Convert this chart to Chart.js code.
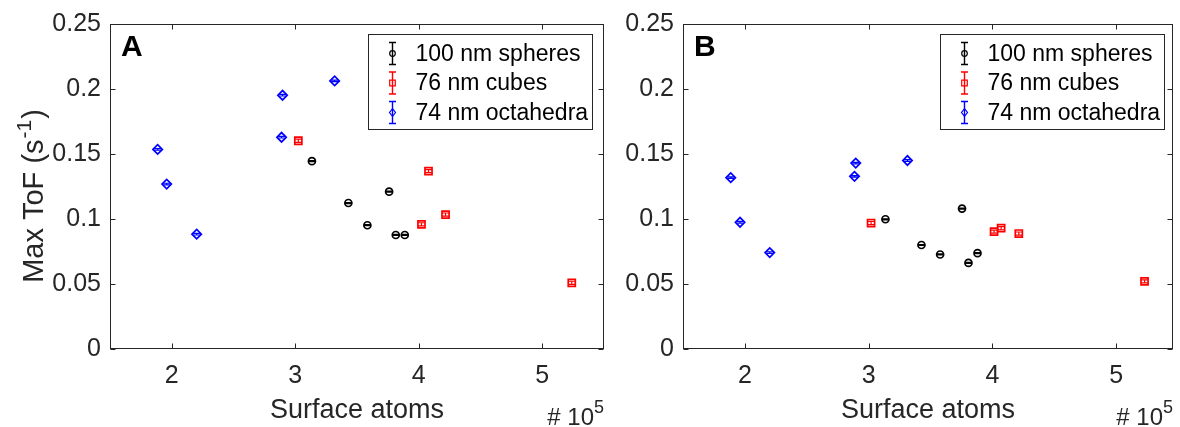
<!DOCTYPE html>
<html><head><meta charset="utf-8">
<script src="https://cdn.jsdelivr.net/npm/chart.js@4.4.1/dist/chart.umd.min.js"></script>
<style>
html,body{margin:0;padding:0;background:#fff;}
#wrap{position:relative;width:1180px;height:427px;overflow:hidden;background:#fff;}
.panel{position:absolute;top:0;height:427px;}
#pA{left:0;width:612px;}
#pB{left:612px;width:568px;}
</style></head><body>
<div id="wrap">
  <div class="panel" id="pA"><canvas id="cA" width="612" height="427"></canvas></div>
  <div class="panel" id="pB"><canvas id="cB" width="568" height="427"></canvas></div>
</div>
<script>
// ---------- data ----------
const seriesNames = ['100 nm spheres', '76 nm cubes', '74 nm octahedra'];
const seriesColors = ['#000000', '#ff0000', '#0000ff'];
const seriesMarkers = ['circle', 'rect', 'rectRot'];

const xTicks = [2, 3, 4, 5];
const xTickLabels = ['2', '3', '4', '5'];
const yTicks = [0, 0.05, 0.1, 0.15, 0.2, 0.25];
const yTickLabels = ['0', '0.05', '0.1', '0.15', '0.2', '0.25'];

// Panel A
const spheresA_x = [3.135, 3.430, 3.584, 3.760, 3.814, 3.887];
const spheresA_y = [0.1445, 0.1123, 0.0952, 0.1210, 0.0877, 0.0877];
const spheresA_err = [0.0004, 0.0004, 0.0004, 0.0004, 0.0004, 0.0004];
const cubesA_x = [3.025, 4.022, 4.079, 4.217, 5.239];
const cubesA_y = [0.1602, 0.0959, 0.1368, 0.1034, 0.0509];
const cubesA_err = [0.0012, 0.0012, 0.0012, 0.0012, 0.0012];
const octaA_x = [1.886, 1.959, 2.202, 2.889, 2.897, 3.319];
const octaA_y = [0.1535, 0.1269, 0.0883, 0.1629, 0.1952, 0.2062];
const octaA_err = [0.0006, 0.0006, 0.0006, 0.0006, 0.0006, 0.0006];

// Panel B
const spheresB_x = [3.136, 3.427, 3.578, 3.755, 3.807, 3.880];
const spheresB_y = [0.0998, 0.0800, 0.0727, 0.1080, 0.0662, 0.0737];
const spheresB_err = [0.0004, 0.0004, 0.0004, 0.0004, 0.0004, 0.0004];
const cubesB_x = [3.020, 4.014, 4.071, 4.214, 5.230];
const cubesB_y = [0.0969, 0.0903, 0.0929, 0.0888, 0.0520];
const cubesB_err = [0.0012, 0.0012, 0.0012, 0.0012, 0.0012];
const octaB_x = [1.886, 1.961, 2.201, 2.886, 2.896, 3.314];
const octaB_y = [0.1318, 0.0975, 0.0742, 0.1328, 0.1430, 0.1450];
const octaB_err = [0.0006, 0.0006, 0.0006, 0.0006, 0.0006, 0.0006];

// ---------- helpers ----------
const AX = '#262626';
const FONT = '"Liberation Sans", Arial, Helvetica, sans-serif';

function pts(xs, ys) { return xs.map((x, i) => ({ x: x, y: ys[i] })); }

function drawSuper(ctx, parts, x, y, align) {
  let w = 0;
  parts.forEach(p => { ctx.font = p.size + 'px ' + FONT; p.w = ctx.measureText(p.t).width + (p.gap || 0); w += p.w; });
  let cx = align === 'right' ? x - w : (align === 'center' ? x - w / 2 : x);
  ctx.textAlign = 'left'; ctx.textBaseline = 'alphabetic';
  parts.forEach(p => { ctx.font = p.size + 'px ' + FONT; ctx.fillText(p.t, cx + (p.gap || 0) / 2, y - (p.rise || 0)); cx += p.w; });
}

const matlabPlugin = {
  id: 'matlab',
  afterDatasetsDraw(chart) {
    const ctx = chart.ctx;
    const ys = chart.scales.y;
    chart.data.datasets.forEach((ds, di) => {
      const meta = chart.getDatasetMeta(di);
      ctx.save();
      ctx.strokeStyle = ds.borderColor; ctx.lineWidth = 1.2;
      meta.data.forEach((el, i) => {
        const v = ds.data[i].y, e = ds.errors[i];
        const y1 = ys.getPixelForValue(v - e), y2 = ys.getPixelForValue(v + e);
        ctx.beginPath();
        ctx.moveTo(el.x, y1); ctx.lineTo(el.x, y2);
        ctx.moveTo(el.x - 3.5, y1); ctx.lineTo(el.x + 3.5, y1);
        ctx.moveTo(el.x - 3.5, y2); ctx.lineTo(el.x + 3.5, y2);
        ctx.stroke();
      });
      ctx.restore();
    });
  },
  afterDraw(chart) {
    const ctx = chart.ctx;
    const o = chart.options.plugins.matlab;
    const a = chart.chartArea;
    const L = Math.round(a.left) + 0.5, T = Math.round(a.top) + 0.5, R = Math.round(a.right) - 0.5, B = Math.round(a.bottom) - 0.5;
    ctx.save();
    ctx.strokeStyle = AX; ctx.lineWidth = 1;
    ctx.strokeRect(L, T, R - L, B - T);
    const tl = 5;
    ctx.beginPath();
    chart.scales.x.ticks.forEach(t => {
      const px = Math.round(chart.scales.x.getPixelForValue(t.value)) + 0.5;
      ctx.moveTo(px, B); ctx.lineTo(px, B - tl);
      ctx.moveTo(px, T); ctx.lineTo(px, T + tl);
    });
    chart.scales.y.ticks.forEach(t => {
      const py = Math.round(chart.scales.y.getPixelForValue(t.value)) + 0.5;
      ctx.moveTo(L, py); ctx.lineTo(L + tl, py);
      ctx.moveTo(R, py); ctx.lineTo(R - tl, py);
    });
    ctx.stroke();

    // panel letter
    ctx.fillStyle = '#000';
    ctx.font = 'bold 30px ' + FONT;
    ctx.textAlign = 'left'; ctx.textBaseline = 'alphabetic';
    ctx.fillText(o.letter, a.left + 11, a.top + 32);

    // legend
    const bw = 224, bh = 95;
    const bx = Math.round(a.right - o.legRight - bw) + 0.5, by = Math.round(a.top + 10) + 0.5;
    ctx.fillStyle = '#fff';
    ctx.fillRect(bx, by, bw, bh);
    ctx.strokeStyle = AX; ctx.lineWidth = 1;
    ctx.strokeRect(bx, by, bw, bh);
    chart.data.datasets.forEach((ds, i) => {
      const cy = by + 19 + i * 29.5;
      const ix = bx + 24;
      ctx.strokeStyle = ds.borderColor; ctx.lineWidth = 1.4;
      ctx.beginPath();
      ctx.moveTo(ix, cy - 11); ctx.lineTo(ix, cy + 11);
      ctx.moveTo(ix - 3.5, cy - 11); ctx.lineTo(ix + 3.5, cy - 11);
      ctx.moveTo(ix - 3.5, cy + 11); ctx.lineTo(ix + 3.5, cy + 11);
      ctx.stroke();
      const st = ds.pointStyle;
      ctx.save(); ctx.lineWidth = 1.2; ctx.strokeStyle = ds.borderColor; ctx.beginPath();
      if (st === 'circle') ctx.arc(ix, cy, 2.8, 0, Math.PI * 2);
      else if (st === 'rect') ctx.rect(ix - 2.8, cy - 2.8, 5.6, 5.6);
      else { ctx.moveTo(ix, cy - 3.8); ctx.lineTo(ix + 3, cy); ctx.lineTo(ix, cy + 3.8); ctx.lineTo(ix - 3, cy); ctx.closePath(); }
      ctx.stroke(); ctx.restore();
      ctx.fillStyle = '#000';
      ctx.font = '23px ' + FONT;
      ctx.textAlign = 'left'; ctx.textBaseline = 'middle';
      ctx.fillText(ds.label, bx + 47, cy + 1);
    });

    // axis labels
    ctx.fillStyle = AX;
    ctx.font = '27px ' + FONT;
    ctx.textAlign = 'center'; ctx.textBaseline = 'alphabetic';
    ctx.fillText(o.xTitle, (a.left + a.right) / 2, 418);
    drawSuper(ctx, [{ t: '# 10', size: 24 }, { t: '5', size: 18, rise: 12 }], a.right, 425, 'right');
    if (o.yTitle) {
      ctx.save();
      ctx.translate(43, 196);
      ctx.rotate(-Math.PI / 2);
      drawSuper(ctx, [{ t: 'Max ToF (s', size: 29 }, { t: '-1', size: 21, rise: 12, gap: 2 }, { t: ')', size: 29 }], 0, 0, 'center');
      ctx.restore();
    }
    ctx.restore();
  }
};

function makeChart(canvasId, sets, cfg) {
  const datasets = sets.map((s, i) => ({
    label: seriesNames[i],
    data: pts(s.x, s.y),
    errors: s.err,
    borderColor: seriesColors[i],
    backgroundColor: 'rgba(0,0,0,0)',
    pointStyle: seriesMarkers[i],
    pointRadius: seriesMarkers[i] === 'circle' ? 3.5 : (seriesMarkers[i] === 'rect' ? 5 : 4.7),
    pointBorderWidth: 1.7,
    pointHoverRadius: 4,
    showLine: false
  }));
  return new Chart(document.getElementById(canvasId), {
    type: 'scatter',
    data: { datasets: datasets },
    plugins: [matlabPlugin],
    options: {
      responsive: false,
      animation: false,
      devicePixelRatio: 1,
      layout: { padding: { top: 23, right: cfg.padRight, bottom: 0, left: 0 } },
      plugins: {
        legend: { display: false },
        tooltip: { enabled: false },
        matlab: { letter: cfg.letter, legRight: cfg.legRight, xTitle: 'Surface atoms', yTitle: cfg.yTitle }
      },
      scales: {
        x: {
          type: 'linear', min: 1.5, max: cfg.xMax,
          grid: { display: false, drawTicks: false },
          border: { display: false },
          afterBuildTicks: s => { s.ticks = xTicks.map(v => ({ value: v })); },
          afterFit: s => { s.height = 78; },
          ticks: {
            autoSkip: false, maxRotation: 0, padding: 12, color: AX,
            font: { family: FONT, size: 25 },
            callback: (v) => xTickLabels[xTicks.indexOf(v)]
          }
        },
        y: {
          type: 'linear', min: 0, max: 0.25,
          grid: { display: false, drawTicks: false },
          border: { display: false },
          afterBuildTicks: s => { s.ticks = yTicks.map(v => ({ value: v })); },
          afterFit: s => { s.width = cfg.yWidth; },
          ticks: {
            autoSkip: false, padding: 9, color: AX,
            font: { family: FONT, size: 25 },
            callback: (v) => yTickLabels[yTicks.indexOf(v)]
          }
        }
      }
    }
  });
}

makeChart('cA', [
  { x: spheresA_x, y: spheresA_y, err: spheresA_err },
  { x: cubesA_x, y: cubesA_y, err: cubesA_err },
  { x: octaA_x, y: octaA_y, err: octaA_err }
], { letter: 'A', yWidth: 110, padRight: 8, xMax: 5.5, legRight: 12, yTitle: true });

makeChart('cB', [
  { x: spheresB_x, y: spheresB_y, err: spheresB_err },
  { x: cubesB_x, y: cubesB_y, err: cubesB_err },
  { x: octaB_x, y: octaB_y, err: octaB_err }
], { letter: 'B', yWidth: 71, padRight: 7, xMax: 5.46, legRight: 9, yTitle: false });
</script>
</body></html>
